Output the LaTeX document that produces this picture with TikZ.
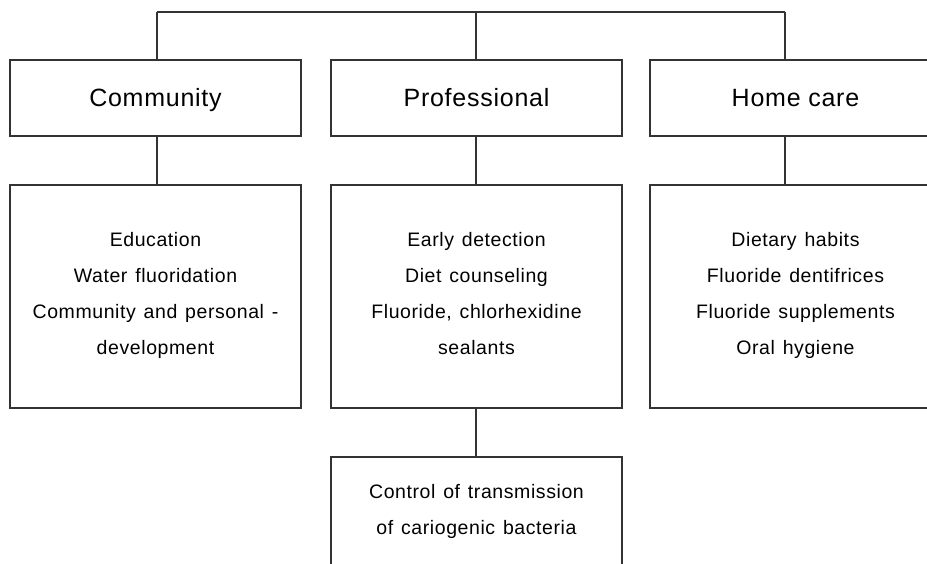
\documentclass[tikz,border=0pt]{standalone}
\usepackage{fontspec}
\setmainfont{Liberation Sans}
\newfontfamily\boxfont[LetterSpace=3,WordSpace=1.3]{Liberation Sans}
\usetikzlibrary{positioning}
\newcommand{\boxstrut}{\rule[-0.34em]{0pt}{1.34em}}
\newcommand{\linestrut}{\rule[-0.5em]{0pt}{1.46em}}
\tikzstyle{header} = [rectangle, minimum width=291pt, minimum height=76pt, inner sep=0pt, outer sep=0pt, text centered, draw=black!80, line width=1.2pt, font=\fontsize{25}{30}\selectfont\addfontfeature{LetterSpace=3}]
\tikzstyle{detail} = [rectangle, minimum width=291pt, minimum height=223pt, inner sep=0pt, outer sep=0pt, align=center, draw=black!80, line width=1.2pt, font=\boxfont\fontsize{19.5}{36}\selectfont]
\tikzstyle{bottombox} = [rectangle, minimum width=291pt, minimum height=160pt, inner sep=0pt, outer sep=0pt, draw=black!80, line width=1.2pt]
\tikzstyle{link} = [draw=black!80, line width=1.2pt]

\begin{document}
\begin{tikzpicture}[x=1pt,y=-1pt]
        \useasboundingbox (0,0) rectangle (927,564);
        \clip (0,0) rectangle (927,564);
        \node[header](comm) at (155.5,98){\boxstrut Community};
        \node[header,right=30pt of comm](prof){\boxstrut Professional};
        \node[header,right=28pt of prof](home){\boxstrut Home care};
        \node[detail,below=49pt of comm](commd){\linestrut Education\\Water fluoridation\\Community and personal -\\development\linestrut};
        \node[detail,below=49pt of prof](profd){\linestrut Early detection\\Diet counseling\\Fluoride, chlorhexidine\\sealants\linestrut};
        \node[detail,below=49pt of home](homed){\linestrut Dietary habits\\Fluoride dentifrices\\Fluoride supplements\\Oral hygiene\linestrut};
        \node[bottombox,below=49pt of profd](ctrl){};
        \node[align=center,inner sep=0pt,font=\boxfont\fontsize{19.5}{36}\selectfont,yshift=-54.6pt](ctrltxt) at (ctrl.north){\linestrut Control of transmission\\of cariogenic bacteria\linestrut};
        \coordinate (topl) at (157,12);
        \coordinate (topm) at (476,12);
        \coordinate (topr) at (785,12);

        \draw [link] (topl) -- (topr);
        \draw [link] (topl) -- (topl |- comm.north);
        \draw [link] (topm) -- (topm |- prof.north);
        \draw [link] (topr) -- (topr |- home.north);
        \draw [link] (topl |- comm.south) -- (topl |- commd.north);
        \draw [link] (topm |- prof.south) -- (topm |- profd.north);
        \draw [link] (topr |- home.south) -- (topr |- homed.north);
        \draw [link] (topm |- profd.south) -- (topm |- ctrl.north);
    \end{tikzpicture}
\end{document}
